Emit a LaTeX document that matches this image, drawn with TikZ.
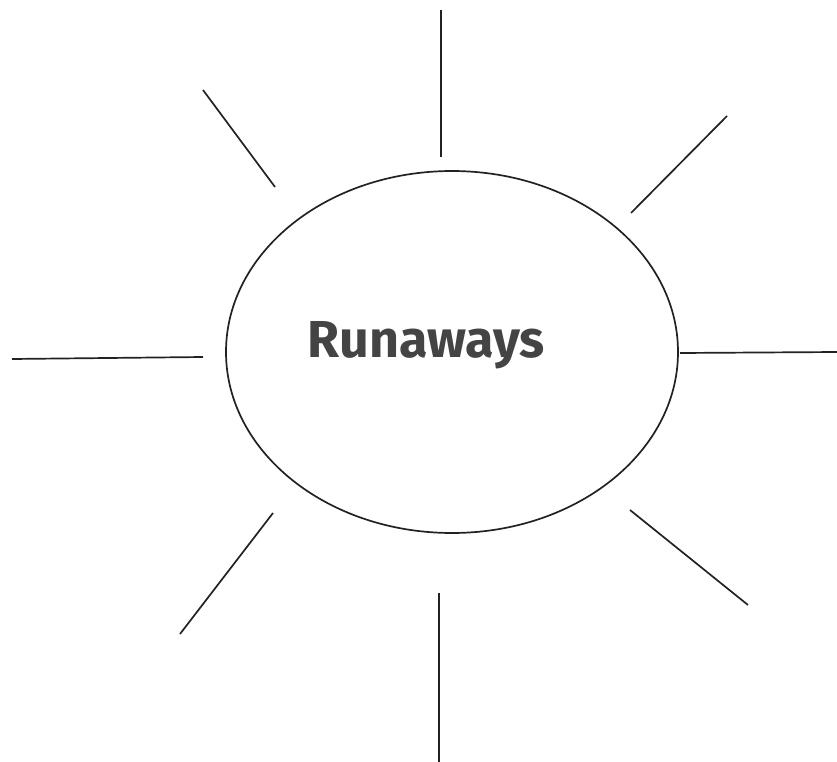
\documentclass[tikz,border=0pt]{standalone}
\usepackage{fontspec}
\setmainfont{Fira Sans}
\usetikzlibrary{shapes.geometric}
\definecolor{ink}{HTML}{222222}
\definecolor{txt}{HTML}{444444}
\tikzset{
  ray/.style={draw=ink, line width=1.7pt},
  sun/.style={draw=ink, line width=1.7pt, ellipse, minimum width=452pt, minimum height=362pt, inner sep=0pt},
  title/.style={text=txt, font=\fontsize{52}{62}\selectfont\bfseries, inner sep=0pt, anchor=base}
}
\begin{document}
\begin{tikzpicture}[x=1pt,y=-1pt]
\useasboundingbox (0,0) rectangle (837,762);
\node[sun] (hub) at (452,352) {};
\node[title] (lbl) at (426,357) {Runaways};
% rays
\coordinate (t1) at (441,10);   \coordinate (t2) at (441,157);
\coordinate (tl1) at (203,90);  \coordinate (tl2) at (275,187);
\coordinate (tr1) at (727,116); \coordinate (tr2) at (631,213);
\coordinate (l1) at (12,359);   \coordinate (l2) at (203,357);
\coordinate (r1) at (680,353);  \coordinate (r2) at (837,352);
\coordinate (bl1) at (273,513); \coordinate (bl2) at (180,634);
\coordinate (br1) at (630,510); \coordinate (br2) at (748,605);
\coordinate (b1) at (439,593);  \coordinate (b2) at (439,762);
\draw[ray] (t1) -- (t2);
\draw[ray] (tl1) -- (tl2);
\draw[ray] (tr1) -- (tr2);
\draw[ray] (l1) -- (l2);
\draw[ray] (r1) -- (r2);
\draw[ray] (bl1) -- (bl2);
\draw[ray] (br1) -- (br2);
\draw[ray] (b1) -- (b2);
\end{tikzpicture}
\end{document}
